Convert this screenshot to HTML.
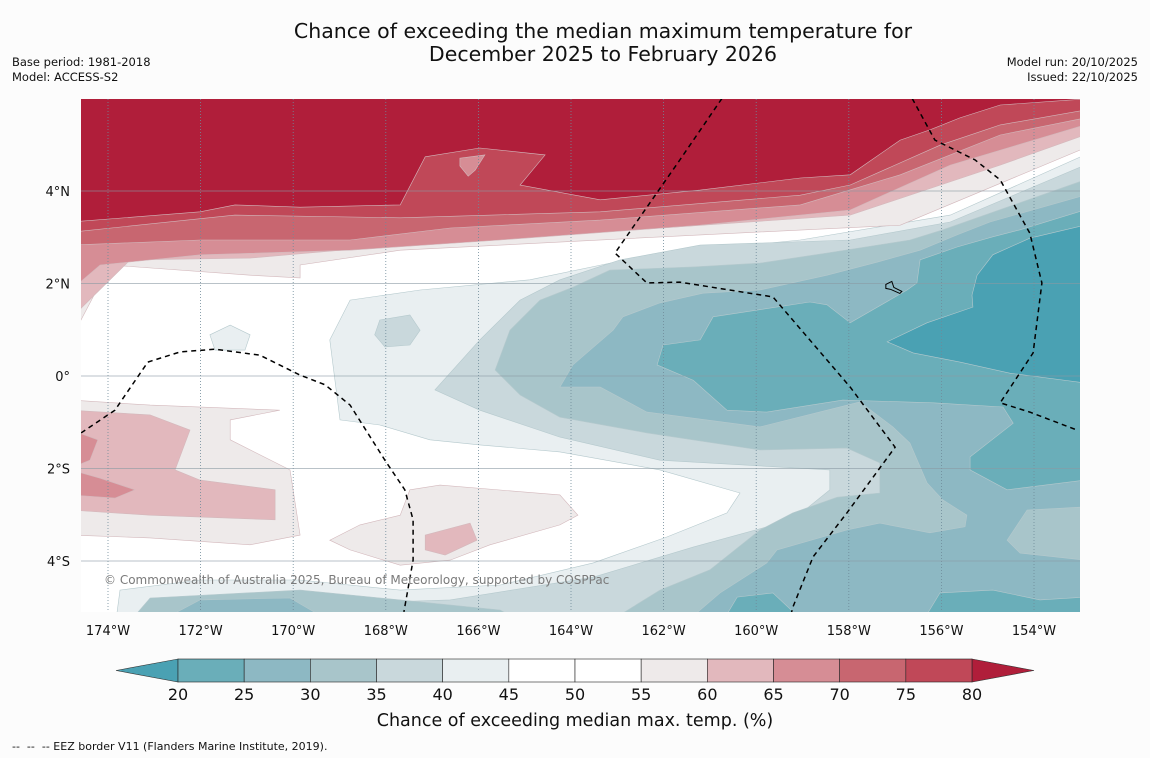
<!DOCTYPE html>
<html><head><meta charset="utf-8"><style>
html,body{margin:0;padding:0;background:#fcfcfc;}
svg{display:block;font-family:"DejaVu Sans","Liberation Sans",sans-serif;}
</style></head><body>
<svg id="chart" width="1150" height="758" viewBox="0 0 1150 758" xmlns="http://www.w3.org/2000/svg">
<rect x="0" y="0" width="1150" height="758" fill="#fcfcfc"/>
<text x="603" y="38" font-size="20.5" text-anchor="middle" fill="#111">Chance of exceeding the median maximum temperature for</text>
<text x="603" y="61" font-size="20.5" text-anchor="middle" fill="#111">December 2025 to February 2026</text>
<text x="12" y="66" font-size="11.5" fill="#111">Base period: 1981-2018</text>
<text x="12" y="81" font-size="11.5" fill="#111">Model: ACCESS-S2</text>
<text x="1138" y="66" font-size="11.5" text-anchor="end" fill="#111">Model run: 20/10/2025</text>
<text x="1138" y="81" font-size="11.5" text-anchor="end" fill="#111">Issued: 22/10/2025</text>
<defs><clipPath id="plotclip"><rect x="81" y="99" width="999" height="513"/></clipPath></defs>
<g id="plot" clip-path="url(#plotclip)">
<rect x="81" y="99" width="999" height="513" fill="#ffffff"/>
<g id="fills"></g><g id="grid"></g><g id="eez"></g>
</g>
<g id="axes"></g>
<text x="104" y="584" font-size="12" fill="#7a7a7a">© Commonwealth of Australia 2025, Bureau of Meteorology, supported by COSPPac</text>
<g id="colorbar"></g>
<text x="575" y="726" font-size="17.5" text-anchor="middle" fill="#111">Chance of exceeding median max. temp. (%)</text>
<text x="12" y="750" font-size="11" fill="#111">-- &#160;-- &#160;-- EEZ border V11 (Flanders Marine Institute, 2019).</text>
</svg>
<script>
// Colour scale
const levels = [20,25,30,35,40,45,50,55,60,65,70,75,80];
const binColors = ["#4aa1b3","#6aaeb9","#8db8c3","#a8c5ca","#c9d8dc","#e9eff1","#ffffff","#ffffff","#eeeaea","#e2b8bd","#d68d95","#c86670","#c04858","#b01e3a"];
const lonTicks = [-174,-172,-170,-168,-166,-164,-162,-160,-158,-156,-154];
const latTicks = [4,2,0,-2,-4];
// Contour regions: [binIndex, [lon,lat,...]] painted in order (nested)
const contour40 = [5,[-152.9,4.78,-155.81,3.48,-159.05,2.94,-162.29,2.62,-164.89,2.08,-167.26,1.86,-168.77,1.64,-169.21,0.78,-168.99,-0.95,-168.13,-1.06,-167.05,-1.38,-165.97,-1.49,-164.24,-1.64,-162.08,-2.03,-160.35,-2.53,-160.63,-2.96,-161.93,-3.48,-163.52,-4.04,-165.53,-4.52,-167.69,-4.63,-169.85,-4.41,-172.01,-4.41,-173.74,-4.63,-173.83,-5.3,-152.9,-5.3]];
const contour40b = [5,[-171.80,0.89,-171.36,1.10,-170.93,0.89,-171.04,0.56,-171.69,0.56]];
const contour35 = [4,[-152.9,4.56,-155.81,3.33,-157.97,2.94,-161.21,2.83,-162.94,2.51,-164.24,2.08,-165.10,1.64,-165.97,0.78,-166.94,-0.30,-165.97,-0.74,-164.24,-1.32,-162.08,-1.82,-158.41,-2.03,-158.41,-2.46,-159.21,-3.11,-161.36,-3.70,-163.52,-4.35,-166.61,-4.84,-169.85,-4.95,-173.09,-4.84,-173.09,-5.3,-152.9,-5.3]];
const contour35b = [4,[-168.13,1.21,-167.48,1.32,-167.26,0.99,-167.48,0.67,-168.02,0.63,-168.24,0.89]];
const contour30 = [3,[-152.9,4.24,-155.97,3.16,-156.68,2.94,-158.47,2.66,-159.92,2.44,-161.36,2.36,-163.16,2.29,-163.96,1.92,-164.67,1.64,-165.32,0.99,-165.64,0.13,-165.10,-0.41,-164.24,-0.89,-162.36,-1.23,-159.92,-1.60,-158.04,-1.56,-157.33,-1.88,-157.33,-2.53,-158.25,-2.62,-159.21,-2.96,-159.92,-3.33,-161.00,-4.19,-162.08,-4.63,-163.16,-5.3,-152.9,-5.3]];
const contour30b = [3,[-173.52,-5.3,-173.09,-4.80,-169.85,-4.63,-167.69,-4.84,-165.53,-5.06,-165.10,-5.3]];
const contour25 = [2,[-152.9,3.91,-154.95,3.33,-155.66,3.05,-156.46,2.72,-157.39,2.46,-158.47,2.18,-159.92,1.86,-161.15,1.79,-162.08,1.58,-162.88,1.28,-163.09,0.99,-163.96,0.24,-164.24,-0.24,-163.37,-0.24,-162.36,-0.78,-159.92,-1.10,-157.76,-0.56,-157.05,-1.10,-156.68,-1.45,-156.31,-2.31,-155.97,-2.68,-155.45,-3.01,-155.49,-3.26,-156.25,-3.39,-157.33,-3.18,-158.04,-3.33,-159.55,-3.76,-159.77,-4.04,-160.78,-4.69,-161.49,-5.3,-152.9,-5.3]];
const contour25b = [2,[-172.88,-5.3,-172.01,-4.84,-170.07,-4.80,-169.21,-5.3]];
const contour30c = [3,[-152.9,-2.83,-154.15,-2.90,-154.58,-3.55,-154.30,-3.83,-152.9,-3.98]];
const contour20 = [1,[-152.9,3.59,-154.30,3.16,-154.89,3.01,-155.66,2.79,-156.46,2.51,-156.53,2.01,-156.74,1.86,-157.97,1.15,-158.47,1.54,-158.84,1.60,-160.93,1.28,-161.21,0.78,-162.01,0.67,-162.14,0.24,-161.36,-0.09,-160.63,-0.74,-159.77,-0.78,-158.13,-0.52,-156.18,-0.58,-154.67,-0.67,-154.45,-1.02,-155.38,-1.75,-155.38,-2.03,-154.58,-2.46,-152.9,-2.25]];
const contour20b = [1,[-160.72,-5.3,-160.41,-4.78,-159.64,-4.69,-158.99,-5.3]];
const contour20c = [1,[-156.40,-5.3,-156.03,-4.69,-154.89,-4.63,-153.87,-4.84,-152.9,-4.78,-152.9,-5.3]];
const contour15 = [0,[-152.9,3.26,-154.09,2.98,-154.89,2.62,-155.23,2.18,-155.34,1.75,-155.32,1.49,-156.31,1.15,-157.17,0.74,-156.61,0.50,-155.60,0.30,-154.52,0.06,-152.9,-0.15]];
const contour55 = [8,[-174.8,6.2,-152.9,6.2,-152.9,4.93,-156.89,3.26,-161.21,3.05,-167.69,2.72,-169.85,2.40,-169.85,2.12,-170.93,2.18,-173.96,2.40,-174.8,0.80]];
const contour60 = [9,[-174.8,6.2,-152.9,6.2,-152.9,5.21,-154.73,4.56,-157.97,3.48,-163.37,3.11,-167.69,2.83,-170.93,2.55,-173.52,2.51,-174.8,1.25]];
const contour65 = [10,[-174.8,6.2,-152.9,6.2,-152.9,5.43,-155.81,4.56,-157.97,3.59,-161.21,3.26,-165.53,2.94,-168.77,2.72,-172.01,2.62,-174.17,2.40,-174.8,1.86]];
const contour70 = [11,[-174.8,6.2,-152.9,6.2,-152.9,5.58,-154.73,5.21,-156.89,4.35,-159.05,3.70,-163.37,3.37,-166.61,3.20,-168.77,2.94,-172.01,2.94,-174.8,2.83]];
const contour75 = [12,[-174.8,6.2,-152.9,6.2,-152.9,5.75,-154.73,5.43,-156.03,4.99,-157.97,4.13,-159.05,3.91,-163.37,3.55,-167.69,3.42,-171.26,3.48,-174.8,3.11]];
const contour80 = [13,[-174.8,6.2,-152.9,6.2,-152.9,5.99,-154.73,5.86,-155.60,5.58,-156.25,5.32,-156.89,5.10,-157.97,4.35,-159.05,4.28,-161.21,4.02,-163.37,3.81,-165.10,4.13,-164.56,4.78,-165.97,4.93,-167.15,4.74,-167.69,3.70,-169.85,3.65,-171.26,3.70,-172.01,3.55,-174.8,3.33]];
const contour65b = [10,[-166.40,4.71,-165.86,4.78,-166.07,4.45,-166.22,4.32,-166.40,4.54]];
const south55 = [8,[-174.8,-0.52,-173.09,-0.63,-170.29,-0.74,-171.36,-0.95,-171.36,-1.38,-170.07,-2.03,-169.85,-3.44,-170.93,-3.65,-173.09,-3.50,-174.8,-3.44]];
const south60 = [9,[-174.8,-0.74,-173.09,-0.84,-172.23,-1.17,-172.55,-2.03,-172.01,-2.25,-170.39,-2.46,-170.39,-3.11,-173.09,-3.01,-174.8,-2.90]];
const south65a = [10,[-174.8,-1.17,-174.22,-1.38,-174.39,-1.82,-174.8,-1.99]];
const south65b = [10,[-174.8,-2.03,-174.17,-2.21,-173.42,-2.46,-173.85,-2.64,-174.8,-2.57]];
const mid55 = [8,[-167.48,-2.46,-166.83,-2.36,-164.24,-2.57,-163.85,-3.01,-164.24,-3.22,-165.75,-3.65,-166.61,-3.98,-167.69,-4.09,-168.77,-3.76,-169.21,-3.55,-168.56,-3.22,-167.69,-3.01]];
const mid60 = [9,[-167.15,-3.44,-166.18,-3.18,-166.03,-3.55,-166.72,-3.87,-167.15,-3.76]];
const eez1 = [-160.74,6.0,-161.65,4.67,-163.05,2.66,-162.36,2.01,-161.65,2.03,-159.64,1.71,-157.97,-0.24,-157.0,-1.54,-157.33,-1.99,-158.04,-2.96,-158.77,-3.91,-159.21,-5.0,-159.25,-5.17];
const eez2 = [-156.63,6.0,-156.14,5.10,-155.27,4.67,-154.73,4.24,-154.09,3.09,-153.83,2.01,-154.02,0.50,-154.73,-0.58,-154.09,-0.78,-153.07,-1.17];
const eez3 = [-174.58,-1.23,-173.85,-0.74,-173.14,0.30,-172.44,0.52,-171.69,0.58,-170.72,0.45,-169.85,0.02,-169.31,-0.19,-168.77,-0.63,-168.02,-1.82,-167.59,-2.46,-167.41,-3.11,-167.41,-3.98,-167.61,-5.1];

const NS="http://www.w3.org/2000/svg";
function xOf(lon){return 108+(lon+174)*46.3;}
function yOf(lat){return 376-lat*46.25;}
function pts(a){let s=[];for(let i=0;i<a.length;i+=2)s.push(xOf(a[i]).toFixed(1)+","+yOf(a[i+1]).toFixed(1));return s.join(" ");}
const fills=document.getElementById("fills");
const order=[["contour-40-45",contour40],["contour-40-45-patch",contour40b],["contour-35-40",contour35],["contour-35-40-patch",contour35b],["contour-30-35",contour30],["contour-30-35-south",contour30b],["contour-25-30",contour25],["contour-25-30-south",contour25b],["contour-30-35-patch",contour30c],["contour-20-25",contour20],["contour-20-25-south",contour20b],["contour-20-25-southeast",contour20c],["contour-below-20",contour15],
["contour-55-60",contour55],["contour-60-65",contour60],["contour-65-70",contour65],["contour-70-75",contour70],["contour-75-80",contour75],["contour-above-80",contour80],["contour-65-70-patch",contour65b],
["contour-55-60-southwest",south55],["contour-60-65-southwest",south60],["contour-65-70-southwest-a",south65a],["contour-65-70-southwest-b",south65b],["contour-55-60-south",mid55],["contour-60-65-south",mid60]];
for(const [nm,c] of order){
  const p=document.createElementNS(NS,"polygon");
  p.setAttribute("points",pts(c[1]));
  p.setAttribute("fill",binColors[c[0]]);
  p.setAttribute("stroke",c[0]>=8?"#d3b8bc":"#b5c9cd");
  p.setAttribute("stroke-width","0.6");
  
  
  fills.appendChild(p);
}
const grid=document.getElementById("grid"), axes=document.getElementById("axes");
for(const lon of lonTicks){
  const l=document.createElementNS(NS,"line");
  l.setAttribute("x1",xOf(lon));l.setAttribute("x2",xOf(lon));l.setAttribute("y1",99);l.setAttribute("y2",612);
  l.setAttribute("stroke","#6f8a99");l.setAttribute("stroke-width","0.8");l.setAttribute("stroke-dasharray","1,2");
  
  
  grid.appendChild(l);
  const t=document.createElementNS(NS,"text");
  t.setAttribute("x",xOf(lon));t.setAttribute("y",635);t.setAttribute("font-size","13");t.setAttribute("text-anchor","middle");t.setAttribute("fill","#111");
  t.textContent=Math.abs(lon)+"°W";
  
  
  axes.appendChild(t);
}
for(const lat of latTicks){
  const l=document.createElementNS(NS,"line");
  l.setAttribute("x1",81);l.setAttribute("x2",1080);l.setAttribute("y1",yOf(lat));l.setAttribute("y2",yOf(lat));
  l.setAttribute("stroke","#8a9aa3");l.setAttribute("stroke-width","0.8");l.setAttribute("opacity","0.8");
  
  
  grid.appendChild(l);
  const t=document.createElementNS(NS,"text");
  t.setAttribute("x",70);t.setAttribute("y",yOf(lat)+5);t.setAttribute("font-size","13");t.setAttribute("text-anchor","end");t.setAttribute("fill","#111");
  t.textContent=lat===0?"0°":(Math.abs(lat)+"°"+(lat>0?"N":"S"));
  
  
  axes.appendChild(t);
}
const eez=document.getElementById("eez");
for(const [nm,a] of [["eez-border-central",eez1],["eez-border-east",eez2],["eez-border-west",eez3]]){
  const pl=document.createElementNS(NS,"polyline");
  pl.setAttribute("points",pts(a));pl.setAttribute("fill","none");pl.setAttribute("stroke","#000");
  pl.setAttribute("stroke-width","1.5");pl.setAttribute("stroke-dasharray","5,4");
  
  
  eez.appendChild(pl);
}
const isl=document.createElementNS(NS,"path");
isl.setAttribute("d","M"+xOf(-157.2)+" "+yOf(1.98)+" l6 -3 l2 6 l8 4 l-2 2 l-9 -4 l-5 -1 z");
isl.setAttribute("fill","none");isl.setAttribute("stroke","#000");isl.setAttribute("stroke-width","1");


eez.appendChild(isl);
// Colorbar
const cb=document.getElementById("colorbar");
const cbX0=178, cbX1=972, cbY=659, cbH=23, bw=(cbX1-cbX0)/(levels.length-1);
function cbx(v){return cbX0+(v-levels[0])/(levels[levels.length-1]-levels[0])*(cbX1-cbX0);}
const lt=document.createElementNS(NS,"polygon");
lt.setAttribute("points",`${cbX0},${cbY} 116,${cbY+cbH/2} ${cbX0},${cbY+cbH}`);lt.setAttribute("fill",binColors[0]);lt.setAttribute("stroke","#333");lt.setAttribute("stroke-width","0.6");


cb.appendChild(lt);
const rt=document.createElementNS(NS,"polygon");
rt.setAttribute("points",`${cbX1},${cbY} 1034,${cbY+cbH/2} ${cbX1},${cbY+cbH}`);rt.setAttribute("fill",binColors[13]);rt.setAttribute("stroke","#333");rt.setAttribute("stroke-width","0.6");


cb.appendChild(rt);
for(let i=0;i<levels.length-1;i++){
  const r=document.createElementNS(NS,"rect");
  r.setAttribute("x",cbx(levels[i]));r.setAttribute("y",cbY);r.setAttribute("width",bw);r.setAttribute("height",cbH);
  r.setAttribute("fill",binColors[i+1]);r.setAttribute("stroke","#222");r.setAttribute("stroke-width","0.6");
  
  
  cb.appendChild(r);
}
for(const v of levels){
  const t=document.createElementNS(NS,"text");
  t.setAttribute("x",cbx(v));t.setAttribute("y",700);t.setAttribute("font-size","16");t.setAttribute("text-anchor","middle");t.setAttribute("fill","#111");
  t.textContent=v;
  
  
  cb.appendChild(t);
}
</script>
</body></html>
